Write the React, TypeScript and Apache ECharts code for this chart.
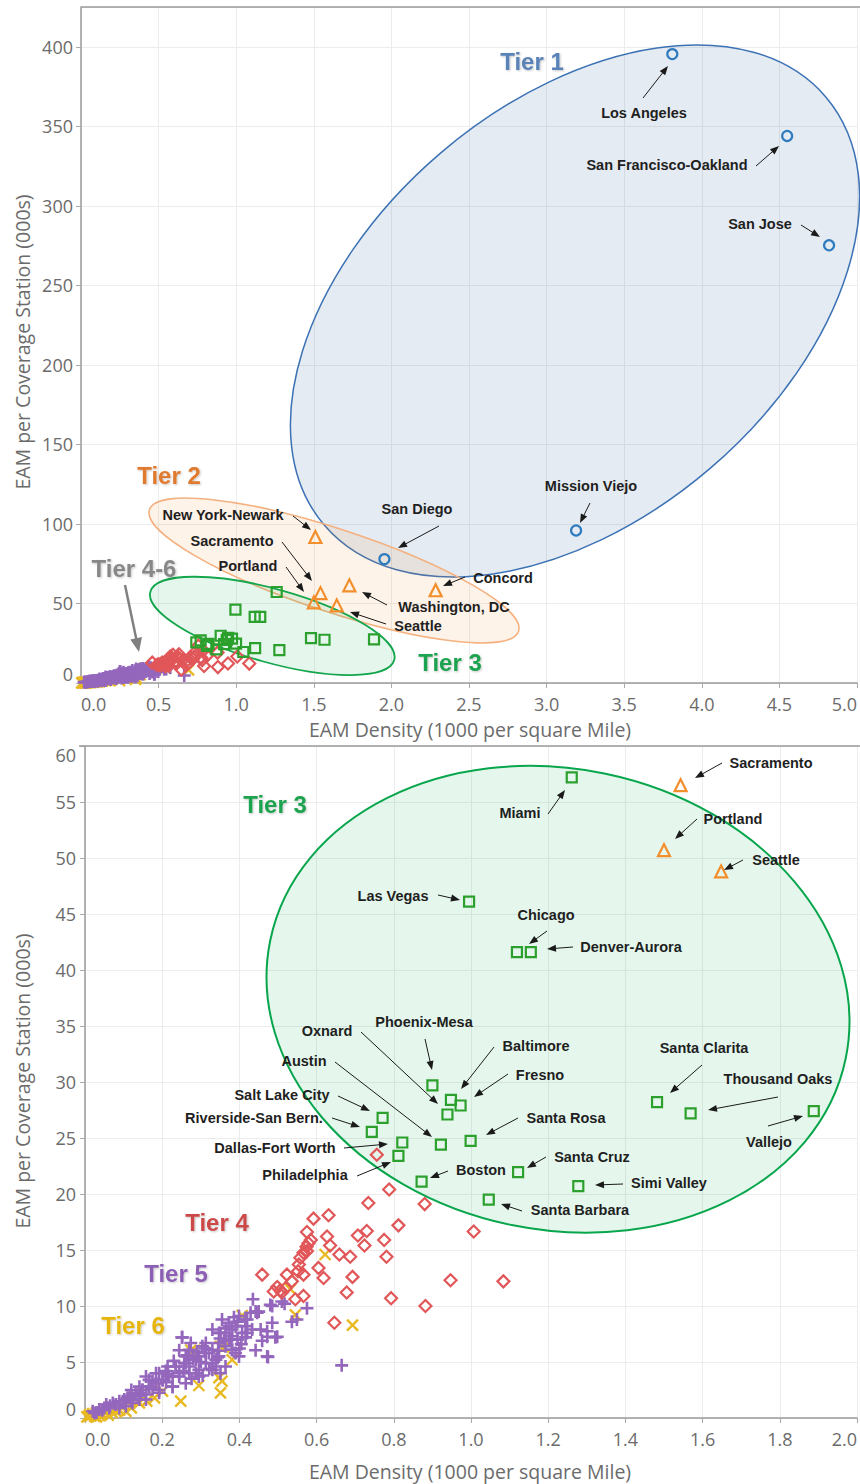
import React, { useEffect, useRef } from 'react';
import * as echarts from 'echarts';

// ---------- data (x = EAM density, y = EAM per coverage station) ----------
const tier1 = [[3.81, 395.4], [4.55, 343.9], [4.82, 275.2], [3.19, 95.9], [1.955, 77.9]];
const tier2 = [[1.51, 91.8], [1.543, 56.5], [1.5, 50.7], [1.648, 48.8], [1.729, 61.4], [2.285, 58.3]];
const tier3 = [
  [1.261, 57.2], [0.995, 46.1], [1.119, 41.6], [1.155, 41.6], [1.482, 28.2], [1.569, 27.2], [1.888, 27.4],
  [0.999, 24.75], [1.122, 21.95], [1.278, 20.7], [1.046, 19.5], [0.872, 21.1], [0.922, 24.4], [0.939, 27.1],
  [0.9, 29.7], [0.948, 28.4], [0.973, 27.9], [0.771, 26.8], [0.743, 25.55], [0.822, 24.6], [0.812, 23.4],
];
const tier4 = [
  [0.756, 23.5], [0.788, 20.4], [0.734, 19.2], [0.88, 19.1], [0.592, 17.8], [0.631, 18.1], [0.575, 16.6],
  [0.627, 16.2], [0.812, 17.2], [0.73, 16.7], [0.707, 16.3], [0.724, 15.4], [0.775, 15.9], [0.635, 15.4],
  [0.579, 15.6], [0.781, 14.4], [0.659, 14.6], [0.687, 14.4], [0.558, 14.3], [0.566, 14.75], [0.575, 14.9],
  [0.554, 13.7], [0.605, 13.4], [0.566, 12.8], [0.523, 12.8], [0.459, 12.8], [0.618, 12.5], [0.693, 12.6],
  [0.536, 12.2], [0.498, 11.7], [0.489, 11.3], [0.506, 11.4], [0.51, 11.2], [0.566, 10.9], [0.545, 10.6],
  [0.678, 11.2], [0.793, 10.7], [0.882, 10.0], [0.646, 8.5], [1.007, 16.65], [0.947, 12.3], [1.084, 12.2],
  [0.552, 13.1], [0.574, 15.3], [0.585, 15.9], [0.52, 11.6],
];
const tier5 = [
  [0.435, 10.6], [0.442, 9.5], [0.485, 10.0], [0.51, 10.4], [0.517, 10.2], [0.575, 9.8], [0.536, 8.6],
  [0.549, 8.8], [0.485, 8.5], [0.472, 7.75], [0.498, 7.25], [0.472, 7.25], [0.442, 6.05], [0.474, 5.45],
  [0.665, 4.7], [0.416, 8.2], [0.42, 8.8], [0.433, 7.9], [0.446, 9.4], [0.416, 7.2], [0.42, 7.6], [0.381, 7.9],
  [0.373, 7.0], [0.381, 6.1], [0.39, 5.8], [0.373, 8.2], [0.351, 7.6], [0.251, 7.2], [0.274, 6.7], [0.244, 6.05],
  [0.304, 6.4], [0.321, 5.8], [0.295, 5.5], [0.313, 4.9], [0.33, 4.9], [0.343, 5.4], [0.364, 6.4], [0.351, 4.0],
  [0.339, 4.6], [0.287, 4.0], [0.27, 4.6], [0.257, 4.9], [0.235, 4.6], [0.214, 4.6], [0.227, 3.7], [0.201, 3.4],
  [0.184, 3.1], [0.166, 2.8], [0.149, 2.5], [0.132, 2.25], [0.119, 1.95], [0.102, 1.65], [0.089, 1.5],
  [0.072, 1.35], [0.055, 1.2], [0.158, 3.7], [0.184, 4.0], [0.209, 4.2], [0.244, 3.7], [0.261, 3.1],
  [0.227, 2.8], [0.192, 2.5], [0.158, 2.1], [0.141, 1.65], [0.123, 1.35], [0.106, 1.05], [0.089, 0.9],
  [0.063, 0.9], [0.037, 0.75], [0.02, 0.6], [0.45, 9.5], [0.48, 10.1], [0.472, 5.5], [0.493, 7.2], [0.455, 7.9],
  [0.459, 6.9], [0.399, 5.5], [0.373, 8.5], [0.364, 7.6], [0.381, 7.3], [0.347, 6.7], [0.33, 6.1], [0.313, 6.7],
  [0.339, 5.2], [0.27, 6.1], [0.252, 7.2], [0.192, 4.0], [0.166, 3.4], [0.141, 2.8], [0.12, 2.5], [0.295, 4.3],
  [0.355, 8.8], [0.36, 6.9], [0.345, 6.0], [0.3, 5.0], [0.28, 5.3], [0.265, 5.6], [0.23, 5.1], [0.215, 3.9],
  [0.175, 3.3], [0.145, 2.2], [0.11, 1.8], [0.08, 1.2], [0.05, 0.9], [0.03, 0.5], [0.386, 9.0], [0.395, 8.6],
  [0.405, 6.6], [0.322, 4.4], [0.305, 3.8], [0.276, 3.5],
  [0.33, 7.9], [0.347, 7.6], [0.39, 8.2], [0.399, 9.1], [0.416, 8.8], [0.377, 7.0], [0.313, 5.8], [0.287, 5.2],
  [0.261, 4.9], [0.235, 4.6], [0.244, 4.0], [0.218, 3.7], [0.201, 3.4], [0.184, 3.1], [0.166, 2.8], [0.149, 2.5],
  [0.132, 2.1], [0.115, 1.8], [0.098, 1.5], [0.08, 1.2], [0.27, 4.0], [0.295, 3.7], [0.227, 2.8], [0.192, 2.25],
  [0.158, 1.65], [0.261, 5.5], [0.33, 4.3], [0.364, 4.6], [0.347, 5.5], [0.381, 6.1], [0.407, 7.6], [0.429, 9.4],
  [0.31, 6.2], [0.29, 5.9], [0.35, 7.1], [0.365, 8.0], [0.395, 7.0], [0.4, 6.2], [0.255, 4.2], [0.21, 3.2],
  [0.175, 2.6], [0.14, 2.0], [0.12, 1.6], [0.065, 1.1], [0.045, 0.7], [0.025, 0.45],
];
const tier6 = [
  [0.622, 14.6], [0.532, 11.5], [0.545, 9.2], [0.407, 9.15], [0.693, 8.3], [0.351, 6.4], [0.274, 6.05],
  [0.381, 5.2], [0.347, 3.6], [0.355, 3.3], [0.351, 2.25], [0.295, 2.9], [0.248, 1.5], [0.201, 2.4],
  [0.141, 1.35], [0.106, 0.6], [0.08, 0.6], [0.055, 0.5], [0.029, 0.45], [0.012, 0.3], [0.283, 6.05],
  [0.36, 6.3], [0.005, 0.1], [0.015, 0.2], [0.025, 0.15], [0.035, 0.3], [0.045, 0.35], [0.02, 0.4],
  [0.06, 0.25], [0.03, 0.1], [0.07, 0.5], [0.09, 0.7], [0.12, 0.9], [0.16, 1.5], [0.18, 1.8], [0.04, 0.2],
  [0.01, 0.15],
];

const xTitle = 'EAM Density (1000 per square Mile)';
const yTitle = 'EAM per Coverage Station (000s)';

// annotation labels: text, centre x, centre y, arrow tail x, y, arrow head x, y (pixels)
const topNotes: any[] = [
  ['Los Angeles', 644, 113, 643, 98, 668, 66],
  ['San Francisco-Oakland', 667, 165, 756, 166, 779, 146],
  ['San Jose', 760, 224, 801, 225, 820, 237],
  ['Mission Viejo', 591, 486, 590, 503, 580, 523],
  ['San Diego', 417, 509, 439, 526, 398, 548],
  ['New York-Newark', 223, 515, 293, 516, 311, 530],
  ['Sacramento', 232, 541, 282, 542, 312, 581],
  ['Portland', 248, 566, 286, 567, 304, 592],
  ['Washington, DC', 454, 607, 387, 605, 362, 592],
  ['Seattle', 418, 626, 386, 624, 350, 612],
  ['Concord', 503, 578, 465, 577, 443, 586],
];
const bottomNotes: any[] = [
  ['Sacramento', 771, 763, 722, 763, 695, 778],
  ['Miami', 520, 813, 548, 814, 565, 790],
  ['Portland', 733, 819, 697, 819, 675, 839],
  ['Seattle', 776, 860, 743, 860, 724, 870],
  ['Las Vegas', 393, 896, 438, 895, 460, 900],
  ['Chicago', 546, 915, 547, 931, 529, 944],
  ['Denver-Aurora', 631, 947, 573, 947, 547, 949],
  ['Phoenix-Mesa', 424, 1022, 425, 1039, 432, 1070],
  ['Oxnard', 327, 1031, 361, 1032, 438, 1104],
  ['Austin', 304, 1061, 335, 1062, 432, 1137],
  ['Salt Lake City', 282, 1095, 338, 1096, 370, 1111],
  ['Riverside-San Bern.', 254, 1118, 332, 1118, 360, 1127],
  ['Dallas-Fort Worth', 275, 1148, 344, 1148, 388, 1144],
  ['Philadelphia', 305, 1175, 357, 1176, 391, 1162],
  ['Baltimore', 536, 1046, 494, 1047, 461, 1089],
  ['Fresno', 540, 1075, 508, 1074, 474, 1097],
  ['Santa Rosa', 566, 1118, 518, 1118, 486, 1135],
  ['Santa Cruz', 592, 1157, 546, 1157, 527, 1168],
  ['Boston', 481, 1170, 448, 1171, 430, 1178],
  ['Simi Valley', 669, 1183, 623, 1184, 595, 1185],
  ['Santa Barbara', 580, 1210, 522, 1211, 501, 1204],
  ['Santa Clarita', 704, 1048, 702, 1065, 670, 1093],
  ['Thousand Oaks', 778, 1079, 778, 1097, 708, 1110],
  ['Vallejo', 769, 1142, 768, 1126, 803, 1116],
];

const C = {
  t1: '#2f7bbf', t2: '#f28e2b', t3: '#2ca02c', t4: '#e15759', t5: '#9467bd', t6: '#e8b923',
  l1: '#5a83b8', l2: '#e07a2e', l3: '#1fa34f', l4: '#cc4a4a', l5: '#8c5fb5', l6: '#e6b510', l46: '#888888',
};

const tierLabels: any[] = [
  ['Tier 1', 532, 61, C.l1], ['Tier 2', 169, 475, C.l2], ['Tier 4-6', 134, 568, C.l46], ['Tier 3', 450, 662, C.l3],
  ['Tier 3', 275, 804, C.l3], ['Tier 4', 217, 1222, C.l4], ['Tier 5', 176, 1273, C.l5], ['Tier 6', 133, 1325, C.l6],
];

const PLUS = 'path://M5,0L5,10M0,5L10,5';
const CROSS = 'path://M0,0L10,10M10,0L0,10';

function arrow(x1: number, y1: number, x2: number, y2: number, color: string, lw: number, hl: number, hw: number) {
  const dx = x2 - x1, dy = y2 - y1;
  const len = Math.hypot(dx, dy) || 1;
  const ux = dx / len, uy = dy / len;
  const bx = x2 - ux * hl, by = y2 - uy * hl;
  const px = -uy, py = ux;
  return [
    { type: 'line', z: 60, silent: true, shape: { x1, y1, x2: bx + ux * 1, y2: by + uy * 1 }, style: { stroke: color, lineWidth: lw } },
    {
      type: 'polygon', z: 60, silent: true,
      shape: { points: [[x2, y2], [bx + (px * hw) / 2, by + (py * hw) / 2], [bx - (px * hw) / 2, by - (py * hw) / 2]] },
      style: { fill: color },
    },
  ];
}

function ellipse(cx: number, cy: number, rx: number, ry: number, deg: number, fill: string, stroke: string, lw: number) {
  return {
    type: 'ellipse', x: cx, y: cy, rotation: (deg * Math.PI) / 180, z: 1, silent: true,
    shape: { cx: 0, cy: 0, rx, ry }, style: { fill, stroke, lineWidth: lw },
  };
}

export default function App() {
  const ref = useRef<HTMLDivElement>(null);
  useEffect(() => {
    if (!ref.current) return;
    const chart = echarts.init(ref.current, null, { renderer: 'svg' });

    const axisFont = { fontFamily: 'Open Sans', fontSize: 18, color: '#6b6b6b' };
    const titleFont = { fontFamily: 'Open Sans', fontSize: 19.5, fill: '#6b6b6b' };
    const common = {
      type: 'value',
      axisLine: { show: true, onZero: false, lineStyle: { color: '#9a9a9a', width: 1.5 } },
      axisTick: { show: true, length: 5, lineStyle: { color: '#aaaaaa' } },
      splitLine: { show: true, lineStyle: { color: '#ececec', width: 1 } },
    };

    const mk = (data: number[][], symbol: string, size: number, color: string, i: number, bw = 2) => ({
      type: 'scatter', xAxisIndex: i, yAxisIndex: i, data, symbol, symbolSize: size, z: 3, silent: true, clip: true,
      itemStyle: { color: 'rgba(0,0,0,0)', borderColor: color, borderWidth: bw, opacity: 1 },
    });

    const series: any[] = [];
    [0, 1].forEach((i) => {
      series.push(mk(tier6, CROSS, 11, C.t6, i, 2.4));
      series.push(mk(tier5, PLUS, 13, C.t5, i, 2.6));
      series.push(mk(tier4, 'diamond', 12, C.t4, i, 2.2));
      series.push(mk(tier3, 'rect', 10, C.t3, i, 2.2));
      series.push(mk(tier2, 'triangle', 12, C.t2, i, 2.2));
      series.push(mk(tier1, 'circle', 10, C.t1, i, 2.2));
    });

    const noteFont = { fontFamily: 'Liberation Sans, Arial, sans-serif', fontWeight: 'bold', fontSize: 14.5, fill: '#1f1f1f' };
    const graphics: any[] = [
      { type: 'line', z: 5, silent: true, shape: { x1: 81, y1: 7, x2: 860, y2: 7 }, style: { stroke: '#9a9a9a', lineWidth: 1.5 } },
      { type: 'line', z: 5, silent: true, shape: { x1: 79, y1: 746, x2: 860, y2: 746 }, style: { stroke: '#9a9a9a', lineWidth: 1.5 } },
      ellipse(575, 311, 329.7, 207.4, 40.54, 'rgba(78,121,167,0.15)', '#3c72b5', 1.5),
      ellipse(334, 570.5, 194.3, 41.4, -18.27, 'rgba(242,142,43,0.10)', '#f4b07e', 1.5),
      ellipse(272.3, 625.9, 126.6, 36.7, -15.68, 'rgba(0,176,80,0.10)', '#14a64c', 1.8),
      ellipse(558, 999.3, 293.6, 230.4, -11.62, 'rgba(0,176,80,0.10)', '#08a64c', 2),
      { type: 'text', z: 50, silent: true, x: 470, y: 729, style: { text: xTitle, ...titleFont, align: 'center', verticalAlign: 'middle' } },
      { type: 'text', z: 50, silent: true, x: 470, y: 1471, style: { text: xTitle, ...titleFont, align: 'center', verticalAlign: 'middle' } },
      { type: 'text', z: 50, silent: true, x: 22, y: 342, rotation: Math.PI / 2, style: { text: yTitle, ...titleFont, align: 'center', verticalAlign: 'middle' } },
      { type: 'text', z: 50, silent: true, x: 22, y: 1081, rotation: Math.PI / 2, style: { text: yTitle, ...titleFont, align: 'center', verticalAlign: 'middle' } },
    ];
    tierLabels.forEach(([t, x, y, col]) => {
      graphics.push({
        type: 'text', z: 55, silent: true, x, y,
        style: {
          text: t, fontFamily: 'Liberation Sans, Arial, sans-serif', fontWeight: 'bold', fontSize: 24, fill: col,
          align: 'center', verticalAlign: 'middle', textShadowColor: 'rgba(0,0,0,0.22)', textShadowBlur: 2, textShadowOffsetX: 1, textShadowOffsetY: 1,
        },
      });
    });
    graphics.push(...arrow(125, 585, 139, 652, '#808080', 2.5, 14, 12));
    [...topNotes, ...bottomNotes].forEach(([t, cx, cy, x1, y1, x2, y2]) => {
      graphics.push({ type: 'text', z: 55, silent: true, x: cx, y: cy, style: { text: t, ...noteFont, align: 'center', verticalAlign: 'middle' } });
      graphics.push(...arrow(x1, y1, x2, y2, '#1a1a1a', 1, 9, 7));
    });

    chart.setOption({
      animation: false,
      textStyle: { fontFamily: 'Open Sans' },
      grid: [
        { left: 81, top: 7, width: 779, height: 676 },
        { left: 85, top: 746, width: 775, height: 672 },
      ],
      xAxis: [
        {
          ...common, gridIndex: 0, min: 0, max: 5, interval: 0.5,
          axisLabel: { ...axisFont, margin: 12, formatter: (v: number) => v.toFixed(1), alignMinLabel: 'left', alignMaxLabel: 'right' },
        },
        {
          ...common, gridIndex: 1, min: 0, max: 2, interval: 0.2,
          axisLabel: { ...axisFont, margin: 12, formatter: (v: number) => v.toFixed(1), alignMinLabel: 'left', alignMaxLabel: 'right' },
        },
      ],
      yAxis: [
        {
          ...common, gridIndex: 0, min: 0, max: 425, interval: 50,
          axisLabel: { ...axisFont, margin: 8, showMaxLabel: false, verticalAlignMinLabel: 'bottom' },
        },
        {
          ...common, gridIndex: 1, min: 0, max: 60, interval: 5,
          axisLabel: { ...axisFont, margin: 9, verticalAlignMinLabel: 'bottom', verticalAlignMaxLabel: 'top' },
        },
      ],
      series,
      graphic: { elements: graphics },
    });
    return () => chart.dispose();
  }, []);
  return <div ref={ref} style={{ position: 'absolute', left: 0, top: 0, width: 860, height: 1484 }} />;
}
